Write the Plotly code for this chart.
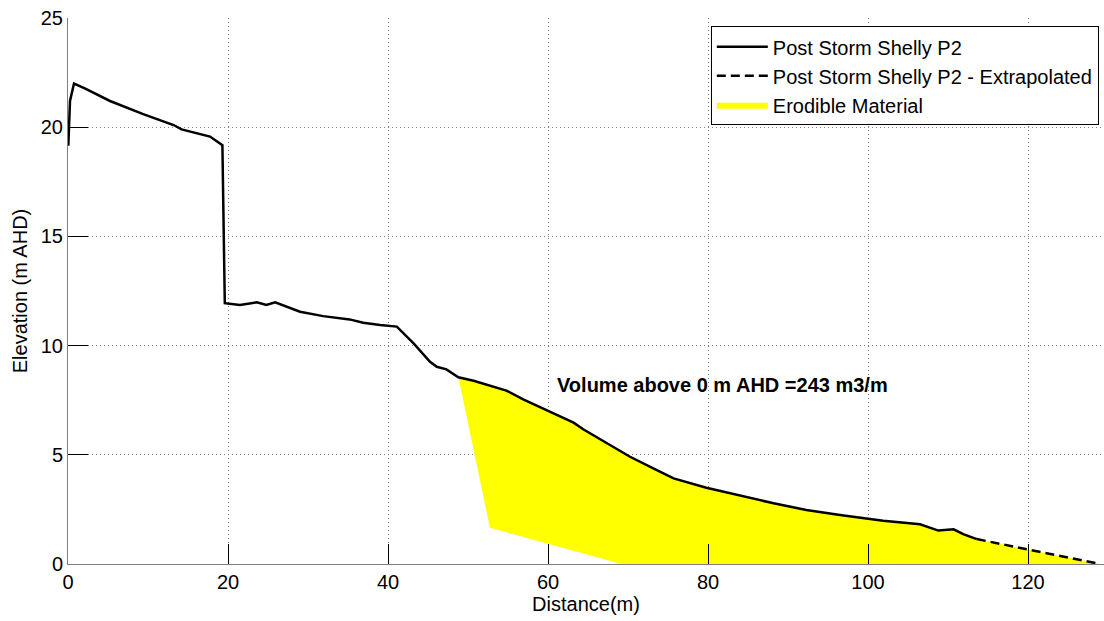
import plotly.graph_objects as go

# Profile (solid)
dist = [0.04, 0.25, 0.75, 2.1, 5.25, 9.4, 13.2, 14.2, 17.75, 19.3, 19.6, 21.5, 23.6, 24.8, 25.9,
        29.0, 31.9, 35.2, 36.9, 39.0, 41.1, 41.7, 43.2, 45.25, 46.1, 47.3, 48.8, 50.7, 54.8,
        56.9, 59.8, 63.2, 64.4, 67.3, 70.25, 73.6, 75.7, 79.8, 83.2, 88.2, 92.3, 96.5, 101.9,
        106.5, 108.8, 110.7, 111.9, 113.6]
elev = [19.15, 21.2, 22.0, 21.78, 21.2, 20.6, 20.1, 19.9, 19.57, 19.18, 11.94, 11.86, 11.98, 11.86, 11.98,
        11.55, 11.35, 11.2, 11.05, 10.94, 10.87, 10.64, 10.1, 9.26, 9.03, 8.91, 8.55, 8.39, 7.94,
        7.54, 7.05, 6.47, 6.17, 5.55, 4.91, 4.3, 3.92, 3.49, 3.2, 2.78, 2.47, 2.24, 1.98,
        1.82, 1.53, 1.59, 1.37, 1.14]

# Extrapolated section
ext_dist = [113.6, 129.0]
ext_elev = [1.14, 0.0]

# Erodible material lower boundary (from toe back to start)
base_dist = [69.2, 52.75]
base_elev = [0.0, 1.66]

start_idx = dist.index(48.8)
fill_x = dist[start_idx:] + ext_dist[1:] + base_dist + [dist[start_idx]]
fill_y = elev[start_idx:] + ext_elev[1:] + base_elev + [elev[start_idx]]

FONT = "Liberation Sans, Arial, sans-serif"
FS = 20

fig = go.Figure()
fig.add_trace(go.Scatter(x=fill_x, y=fill_y, mode="lines", fill="toself",
                         fillcolor="#FFFF00", line=dict(width=0, color="#FFFF00"),
                         name="Erodible Material", legendrank=3))
fig.add_trace(go.Scatter(x=dist, y=elev, mode="lines", line=dict(color="black", width=2.5),
                         name="Post Storm Shelly P2", legendrank=1))
fig.add_trace(go.Scatter(x=ext_dist, y=ext_elev, mode="lines",
                         line=dict(color="black", width=2.5, dash="9px,5px"),
                         name="Post Storm Shelly P2 - Extrapolated", legendrank=2))

fig.add_annotation(x=60.9, y=8.2, xref="x", yref="y", text="<b>Volume above 0 m AHD =243 m3/m</b>",
                   showarrow=False, xanchor="left", yanchor="middle",
                   font=dict(family=FONT, size=FS, color="black"))

axis_common = dict(showline=True, linecolor="#7f7f7f", linewidth=1, ticks="inside", ticklen=20,
                   tickcolor="black", tickwidth=1, showgrid=True, gridcolor="#808080",
                   griddash="1px,3px", gridwidth=1, zeroline=False,
                   tickfont=dict(family=FONT, size=FS, color="black"),
                   title_font=dict(family=FONT, size=FS, color="black"))

fig.update_xaxes(range=[0, 129.5], tickvals=[0, 20, 40, 60, 80, 100, 120],
                 title_text="Distance(m)", title_standoff=4, **axis_common)
fig.update_yaxes(range=[0, 25], tickvals=[0, 5, 10, 15, 20, 25],
                 title_text="Elevation (m AHD)", title_standoff=7, **axis_common)

fig.update_layout(
    width=1104, height=621,
    margin=dict(l=68, r=0, t=18, b=57),
    plot_bgcolor="white", paper_bgcolor="white",
    font=dict(family=FONT, size=FS, color="black"),
    legend=dict(x=0.995, xanchor="right", y=0.985, yanchor="top",
                bgcolor="white", bordercolor="black", borderwidth=1,
                font=dict(family=FONT, size=FS, color="black"),
                itemwidth=51, tracegroupgap=0),
    showlegend=True,
)

fig.write_html("out.html")
